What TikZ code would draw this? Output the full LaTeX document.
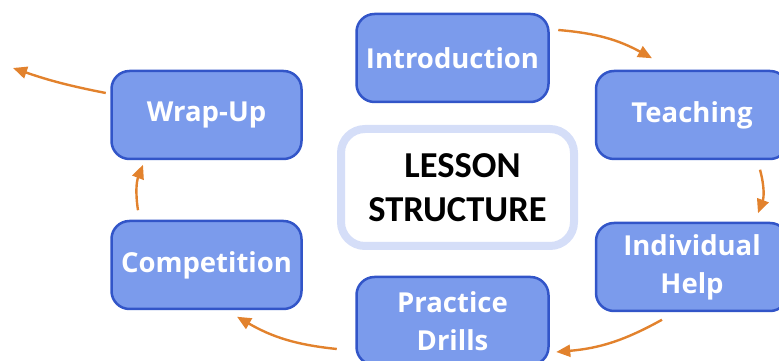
\documentclass[tikz,border=0pt]{standalone}
\usepackage{fontspec}
\setmainfont{Open Sans}
\newfontfamily\ctrfont{Carlito}
\usetikzlibrary{arrows.meta,positioning}
\definecolor{boxfill}{HTML}{7B9BEC}
\definecolor{boxline}{HTML}{3255C8}
\definecolor{flowc}{HTML}{E2822D}
\definecolor{ctrline}{HTML}{D5DEF8}
\tikzset{
  stepbox/.style={draw=boxline, fill=boxfill, line width=2.5pt, rounded corners=18pt,
    minimum width=192pt, minimum height=88pt, text=white, align=center,
    font=\fontsize{27.5}{38}\selectfont\bfseries, inner sep=0pt},
  centerbox/.style={draw=ctrline, fill=white, line width=8pt, rounded corners=24pt,
    minimum width=233pt, minimum height=117pt, align=center,
    font=\ctrfont\fontsize{36.5}{44}\selectfont\bfseries, inner sep=0pt},
  flow/.style={draw=flowc, line width=2.4pt, -{Triangle[length=14pt,width=12pt]}},
}
\begin{document}
\begin{tikzpicture}[x=1pt,y=1pt]
\useasboundingbox (0,0) rectangle (779,361);
\node[stepbox] (intro) at (452.5,303) {Introduction};
\node[stepbox] (teach) at (692,246) {Teaching};
\node[stepbox] (help) at (692,94) {Individual\\Help};
\node[stepbox] (drill) at (452.5,40) {Practice\\Drills};
\node[stepbox, minimum width=190pt] (comp) at (206.5,96) {Competition};
\node[stepbox, minimum width=190pt] (wrap) at (206.5,246) {Wrap-Up};
\node[centerbox] (center) at (457.5,173.5) {\hspace*{10pt}LESSON\\STRUCTURE};
\coordinate (out) at (13,293);
\draw[flow] ([shift={(8.5,28)}]intro.east) to[bend left=12] ([shift={(-40,11.5)}]teach.north);
\draw[flow] ([shift={(68,-9.5)}]teach.south) to[bend left=18] ([shift={(66,8.5)}]help.north);
\draw[flow] ([shift={(-30,-7.5)}]help.south) to[bend left=12] ([shift={(6.5,-31)}]drill.east);
\draw[flow] ([shift={(-18.5,-28)}]drill.west) to[bend left=12] ([shift={(30.5,-6.5)}]comp.south);
\draw[flow] ([shift={(-68.5,9.5)}]comp.north) to[bend left=15] ([shift={(-63.5,-4.5)}]wrap.south);
\draw[flow] ([shift={(-4.5,22)}]wrap.west) to[bend left=4] (out);
\end{tikzpicture}
\end{document}
